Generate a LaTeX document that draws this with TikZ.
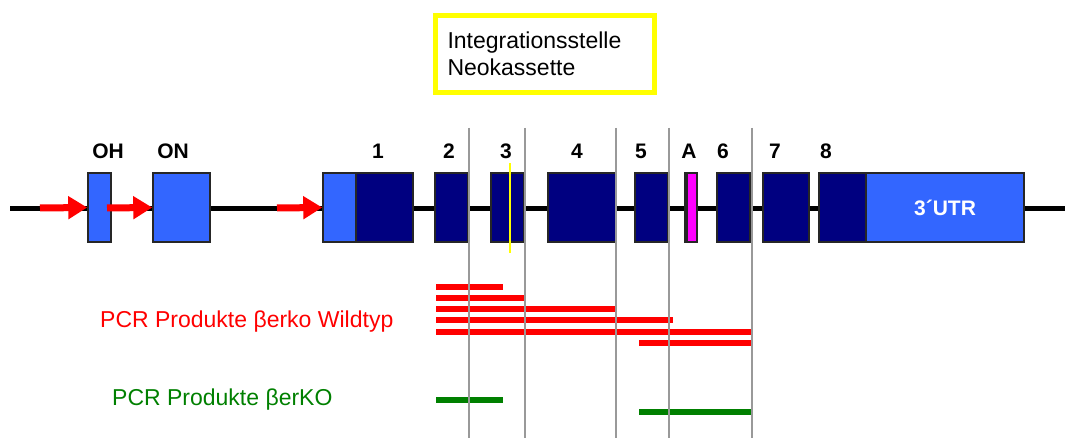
\documentclass[tikz,border=0pt]{standalone}
\usepackage{fontspec}
\setmainfont{Liberation Sans}
\usetikzlibrary{arrows.meta}
\definecolor{utrblue}{HTML}{3366FF}
\definecolor{cdsblue}{HTML}{000080}
\definecolor{neoyellow}{HTML}{FFFF00}
\definecolor{exonpink}{HTML}{FF00FF}
\definecolor{wtred}{HTML}{FF0000}
\definecolor{kogreen}{HTML}{008000}
\definecolor{sepgray}{HTML}{999999}
\tikzset{
  box/.style={draw=black!85, line width=1.5pt, minimum height=69pt, inner sep=0pt},
  utr/.style={box, fill=utrblue},
  cds/.style={box, fill=cdsblue},
  lbl/.style={font=\fontsize{21}{24}\selectfont\bfseries},
  promo/.style={draw=wtred, line width=7pt, -{Triangle[width=22pt,length=19pt]}},
  sep/.style={draw=sepgray, line width=2pt},
  wtbar/.style={draw=wtred, line width=6pt},
  kobar/.style={draw=kogreen, line width=6pt}
}
\begin{document}
\begin{tikzpicture}[x=1pt, y=-1pt]
  \useasboundingbox (0,0) rectangle (1065,438);
  % Rueckgrat
  \coordinate (start) at (10,209);
  \coordinate (ende) at (1065,209);
  \draw[line width=5pt] (start) -- (ende);

  % Exons
  \node[utr, minimum width=23pt] (OH) at (99.5,207.5) {};
  \node[utr, minimum width=57pt] (ON) at (181.5,207.5) {};
  \node[utr, minimum width=33pt] (e1a) at (339.5,207.5) {};
  \node[cds, minimum width=57pt] (e1b) at (384.5,207.5) {};
  \node[cds, minimum width=33pt] (e2) at (451.5,207.5) {};
  \node[cds, minimum width=33pt] (e3) at (507.5,207.5) {};
  \node[cds, minimum width=68pt] (e4) at (582,207.5) {};
  \node[cds, minimum width=33pt] (e5) at (651.5,207.5) {};
  \node[utr, minimum width=12pt] (eA) at (691,207.5) {};
  \node[box, fill=exonpink, minimum width=10pt] (eAm) at (692,207.5) {};
  \node[cds, minimum width=33pt] (e6) at (733.5,207.5) {};
  \node[cds, minimum width=46pt] (e7) at (786,207.5) {};
  \node[cds, minimum width=47pt] (e8) at (842.5,207.5) {};
  \node[utr, minimum width=158pt, text=white, lbl] (utr3) at (945,207.5) {3´UTR};

  % Promotoren
  \coordinate (p1) at (40,208);
  \coordinate (p2) at (107,208);
  \coordinate (p3) at (277,208);
  \draw[promo] (p1) -- (OH.west);
  \draw[promo] (p2) -- (ON.west);
  \draw[promo] (p3) -- (e1a.west);

  % Beschriftung
  \foreach \name/\x in {OH/108, ON/173, 1/378, 2/449, 3/506, 4/577, 5/641, A/689, 6/723, 7/775, 8/826}
    \node[lbl] (l\name) at (\x,151) {\name};

  % Integrationsstelle
  \coordinate (neoT) at (510,163);
  \coordinate (neoB) at (510,253);
  \draw[neoyellow, line width=2pt] (neoT) -- (neoB);
  \node[draw=neoyellow, line width=5pt, minimum width=219pt, minimum height=77pt,
        text width=195pt, inner xsep=12pt, align=left,
        font=\fontsize{23}{27}\selectfont] (legende) at (545,54)
        {Integrationsstelle\\Neokassette};

  % PCR Produkte
  \node[anchor=west, inner sep=0pt, text=wtred, font=\fontsize{23}{26}\selectfont] (wt) at (100,322) {PCR Produkte βerko Wildtyp};
  \node[anchor=west, inner sep=0pt, text=kogreen, font=\fontsize{23}{26}\selectfont] (ko) at (112,400) {PCR Produkte βerKO};
  \foreach \a/\b/\y in {436/503/287, 436/524/298, 436/615/309, 436/673/320, 436/751/332, 639/751/343}
    \draw[wtbar] (\a,\y) -- (\b,\y);
  \draw[kobar] (436,400) -- (503,400);
  \draw[kobar] (639,412) -- (751,412);

  % Trennlinien
  \foreach \x in {469, 525, 616, 669, 752}
    \draw[sep] (\x,128) -- (\x,438);
\end{tikzpicture}
\end{document}
